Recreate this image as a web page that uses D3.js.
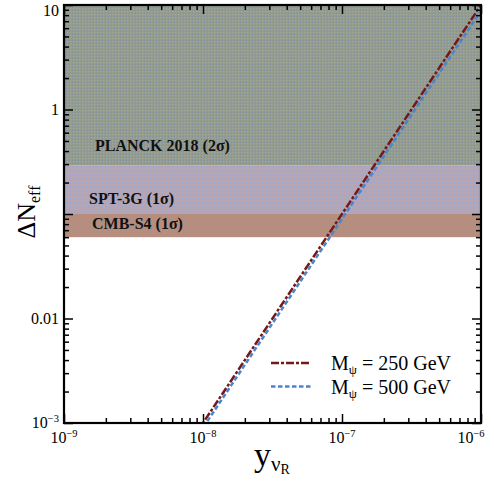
<!DOCTYPE html>
<html>
<head>
<meta charset="utf-8">
<script src="https://cdn.jsdelivr.net/npm/d3@7"></script>
<style>
  body { margin: 0; background: #fff; }
  text { font-family: "Liberation Serif", "Times New Roman", serif; }
</style>
</head>
<body>
<svg id="chart" width="494" height="481"></svg>
<script>
// yukawa coupling vs Delta N_eff
const yukawa = [1e-9, 1e-8, 1e-7, 1e-6];
const dNeff250 = [1.0e-5, 1.0e-3, 0.1, 10.0];
const dNeff500 = [0.9e-5, 0.9e-3, 0.09, 8.8];
const seriesNames = ['M_ψ = 250 GeV', 'M_ψ = 500 GeV'];

// experimental bounds (lower edge of shaded region)
const bandNames = ['PLANCK 2018 (2σ)', 'SPT-3G (1σ)', 'CMB-S4 (1σ)'];
const bandLow = [0.29, 0.1, 0.06];
const bandHigh = [10, 0.29, 0.1];

const xMajor = [1e-9, 1e-8, 1e-7, 1e-6];
const xExp = ['−9', '−8', '−7', '−6'];
const yLabelVals = [10, 1, 0.01, 1e-3];
const yLabelText = ['10', '1', '0.01', '10'];
const yLabelSup = ['', '', '', '−3'];

const margin = {top: 5, right: 13, bottom: 58, left: 64};
const W = 494, H = 481;
const width = W - margin.left - margin.right;
const height = H - margin.top - margin.bottom;

const svg = d3.select('#chart');
const defs = svg.append('defs');

// dotted textures
const p1 = defs.append('pattern').attr('id', 'planck').attr('width', 3).attr('height', 3).attr('patternUnits', 'userSpaceOnUse');
p1.append('rect').attr('width', 3).attr('height', 3).attr('fill', '#939c90');
p1.append('rect').attr('x', 0).attr('y', 0).attr('width', 1).attr('height', 1).attr('fill', '#aaa690');
p1.append('rect').attr('x', 2).attr('y', 2).attr('width', 1).attr('height', 1).attr('fill', '#8090a4');

const p2 = defs.append('pattern').attr('id', 'spt').attr('width', 4).attr('height', 4).attr('patternUnits', 'userSpaceOnUse');
p2.append('rect').attr('width', 4).attr('height', 4).attr('fill', '#b6a6b4');
p2.append('rect').attr('x', 1).attr('y', 1).attr('width', 2).attr('height', 2).attr('fill', '#a2a8cc');

const bandFill = ['url(#planck)', 'url(#spt)', '#b58e80'];

defs.append('clipPath').attr('id', 'clip')
  .append('rect').attr('width', width).attr('height', height);

const g = svg.append('g').attr('transform', `translate(${margin.left},${margin.top})`);

const x = d3.scaleLog().domain([1e-9, 1e-6]).range([0, width]);
const y = d3.scaleLog().domain([1e-3, 10]).range([height, 0]);

// bands
g.selectAll('.band').data(bandNames).join('rect')
  .attr('class', 'band')
  .attr('x', 0)
  .attr('width', width)
  .attr('y', (d, i) => y(bandHigh[i]))
  .attr('height', (d, i) => y(bandLow[i]) - y(bandHigh[i]))
  .attr('fill', (d, i) => bandFill[i]);

const bandLabelX = [31, 25, 28];
const bandLabelY = [0.4, 0.125, 0.072];
g.selectAll('.band-label').data(bandNames).join('text')
  .attr('class', 'band-label')
  .attr('x', (d, i) => bandLabelX[i])
  .attr('y', (d, i) => y(bandLabelY[i]))
  .attr('font-size', 16)
  .attr('font-weight', 'bold')
  .attr('fill', '#111')
  .text(d => d);

// curves
const line = d3.line().x(d => x(d[0])).y(d => y(d[1]));
const curves = [
  {vals: dNeff250, color: '#761818', dash: '8,2,3,2'},
  {vals: dNeff500, color: '#4a84cc', dash: '4.5,2.5'}
];
g.append('g').attr('clip-path', 'url(#clip)')
  .selectAll('path').data(curves).join('path')
  .attr('d', c => line(yukawa.map((v, i) => [v, c.vals[i]])))
  .attr('fill', 'none')
  .attr('stroke', c => c.color)
  .attr('stroke-width', 2.5)
  .attr('stroke-dasharray', c => c.dash);

// ticks (inward, on all four sides)
const xAll = x.ticks();
const yAll = y.ticks();
const isMajor = v => Math.abs(Math.log10(v) - Math.round(Math.log10(v))) < 1e-6;
const xMin = xAll.filter(v => !isMajor(v));
const yMin = yAll.filter(v => !isMajor(v));
const yMaj = yAll.filter(isMajor);

function tickAxis(axis, vals, size, tr) {
  g.append('g').attr('transform', tr)
    .call(axis.tickValues(vals).tickSize(size).tickFormat(''))
    .call(s => s.select('.domain').remove())
    .call(s => s.selectAll('line').attr('stroke', '#000').attr('stroke-width', 1.5));
}
tickAxis(d3.axisBottom(x), xMajor, -9, `translate(0,${height})`);
tickAxis(d3.axisBottom(x), xMin, -5, `translate(0,${height})`);
tickAxis(d3.axisTop(x), xMajor, -9, 'translate(0,0)');
tickAxis(d3.axisTop(x), xMin, -5, 'translate(0,0)');
tickAxis(d3.axisLeft(y), yMaj, -9, 'translate(0,0)');
tickAxis(d3.axisLeft(y), yMin, -5, 'translate(0,0)');
tickAxis(d3.axisRight(y), yMaj, -9, `translate(${width},0)`);
tickAxis(d3.axisRight(y), yMin, -5, `translate(${width},0)`);

// frame
g.append('rect').attr('width', width).attr('height', height)
  .attr('fill', 'none').attr('stroke', '#000').attr('stroke-width', 2.2);

// x tick labels
const xl = g.selectAll('.xlab').data(xMajor).join('text')
  .attr('class', 'xlab')
  .attr('x', (d, i) => x(d) - (i === xMajor.length - 1 ? 10 : 0))
  .attr('y', height + 20)
  .attr('text-anchor', 'middle')
  .attr('font-size', 16);
xl.append('tspan').text('10');
xl.append('tspan').attr('dy', -6).attr('font-size', 10.5).text((d, i) => xExp[i]);

// y tick labels
const yl = g.selectAll('.ylab').data(yLabelVals).join('text')
  .attr('class', 'ylab')
  .attr('x', -5)
  .attr('y', d => Math.max(y(d) + 5, 11))
  .attr('text-anchor', 'end')
  .attr('font-size', 16);
yl.append('tspan').text((d, i) => yLabelText[i]);
yl.filter((d, i) => yLabelSup[i] !== '').append('tspan')
  .attr('dy', -6).attr('font-size', 10.5).text((d, i) => yLabelSup[yLabelVals.indexOf(d)]);

// axis titles
const yt = svg.append('text')
  .attr('transform', `translate(35,212) rotate(-90)`)
  .attr('text-anchor', 'middle')
  .attr('font-size', 26);
yt.append('tspan').text('ΔN');
yt.append('tspan').attr('dy', 5).attr('font-size', 16).text('eff');

const xt = svg.append('text')
  .attr('x', 254)
  .attr('y', 466)
  .attr('font-size', 34);
xt.append('tspan').text('y');
xt.append('tspan').attr('dy', 5).attr('font-size', 21).text('ν');
xt.append('tspan').attr('dy', 3).attr('font-size', 14).text('R');

// legend
const leg = g.append('g').attr('transform', `translate(${271 - margin.left},${363 - margin.top})`);
const li = leg.selectAll('g').data(curves).join('g')
  .attr('transform', (d, i) => `translate(0,${i * 23.5})`);
li.append('line')
  .attr('x1', 0).attr('x2', 40)
  .attr('stroke', c => c.color)
  .attr('stroke-width', 2.5)
  .attr('stroke-dasharray', c => c.dash);
const lt = li.append('text')
  .attr('x', 60).attr('y', 7)
  .attr('font-size', 20);
lt.append('tspan').text('M');
lt.append('tspan').attr('dy', 4).attr('font-size', 13).text('ψ');
lt.append('tspan').attr('dy', -4).text((d, i) => seriesNames[i].split('ψ')[1]);
</script>
</body>
</html>
